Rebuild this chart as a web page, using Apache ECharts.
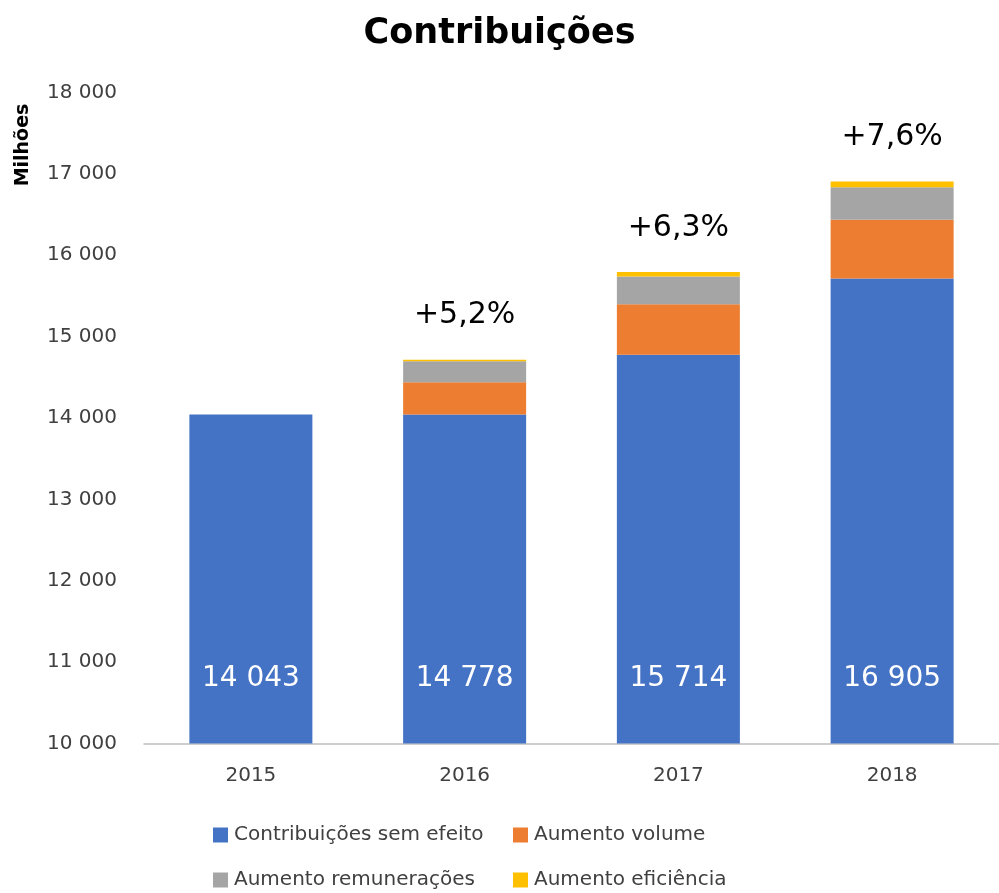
<!DOCTYPE html>
<html>
<head>
<meta charset="utf-8">
<script src="https://cdn.jsdelivr.net/npm/echarts@6/dist/echarts.min.js"></script>
<style>
html,body{margin:0;padding:0;background:#fff;}
#chart{width:999px;height:893px;}
</style>
</head>
<body>
<div id="chart"></div>
<script>
var categories = ['2015', '2016', '2017', '2018'];
var semEfeito = [14043, 14043, 14778, 15714];
var aumentoVolume = [0, 395, 619, 723];
var aumentoRemuneracoes = [0, 258, 343, 400];
var aumentoEficiencia = [0, 21, 53, 68];
var barLabels = ['14 043', '14 778', '15 714', '16 905'];
var growthLabels = ['', '+5,2%', '+6,3%', '+7,6%'];
var seriesNames = ['Contribuições sem efeito', 'Aumento volume', 'Aumento remunerações', 'Aumento eficiência'];

var FONT = 'DejaVu Sans';
var chart = echarts.init(document.getElementById('chart'), null, {renderer: 'canvas'});

function fmtThousands(v) {
  var s = String(Math.round(v));
  return s.replace(/\B(?=(\d{3})+(?!\d))/g, ' ');
}

function legendItem(name, left, top) {
  return {
    orient: 'horizontal',
    left: left,
    top: top,
    padding: 0,
    itemWidth: 15,
    itemHeight: 15,
    itemGap: 0,
    icon: 'rect',
    data: [name],
    textStyle: {fontFamily: FONT, fontSize: 20, color: '#404040', lineHeight: 20, padding: [0, 0, 0, 1]}
  };
}

var option = {
  backgroundColor: '#ffffff',
  animation: false,
  title: {
    text: 'Contribuições',
    left: 'center',
    top: 11,
    textStyle: {fontFamily: FONT, fontSize: 35, fontWeight: 'bold', color: '#000000'}
  },
  legend: [
    legendItem(seriesNames[0], 213, 825),
    legendItem(seriesNames[1], 513, 825),
    legendItem(seriesNames[2], 213, 870),
    legendItem(seriesNames[3], 513, 870)
  ],
  graphic: [{
    type: 'text',
    x: 23,
    y: 145,
    rotation: Math.PI / 2,
    style: {
      text: 'Milhões',
      fontFamily: FONT,
      fontSize: 19,
      fontWeight: 'bold',
      fill: '#000000',
      textAlign: 'center',
      textVerticalAlign: 'middle'
    }
  }],
  grid: {left: 144, top: 92.5, width: 863, height: 651, containLabel: false},
  xAxis: {
    type: 'category',
    data: categories,
    axisLine: {show: true, lineStyle: {color: '#bfbfbf', width: 1.5}},
    axisTick: {show: false},
    axisLabel: {fontFamily: FONT, fontSize: 20, color: '#404040', margin: 22}
  },
  yAxis: {
    type: 'value',
    min: 10000,
    max: 18000,
    interval: 1000,
    startValue: 10000,
    axisLine: {show: false},
    axisTick: {show: false},
    splitLine: {show: false},
    axisLabel: {
      fontFamily: FONT, fontSize: 20, color: '#404040', margin: 27,
      formatter: function (v) { return fmtThousands(v); }
    }
  },
  series: [
    {
      name: seriesNames[0], type: 'bar', stack: 'total', barWidth: 123,
      itemStyle: {color: '#4472C4'},
      label: {
        show: true, position: 'insideBottom', distance: 51,
        fontFamily: FONT, fontSize: 28, color: '#ffffff',
        formatter: function (p) { return barLabels[p.dataIndex]; }
      },
      data: semEfeito
    },
    {
      name: seriesNames[1], type: 'bar', stack: 'total', barWidth: 123,
      itemStyle: {color: '#ED7D31'},
      data: aumentoVolume
    },
    {
      name: seriesNames[2], type: 'bar', stack: 'total', barWidth: 123,
      itemStyle: {color: '#A5A5A5'},
      data: aumentoRemuneracoes
    },
    {
      name: seriesNames[3], type: 'bar', stack: 'total', barWidth: 123,
      itemStyle: {color: '#FFC000'},
      label: {
        show: true, position: 'top', distance: 29,
        fontFamily: FONT, fontSize: 30, color: '#000000',
        formatter: function (p) { return growthLabels[p.dataIndex]; }
      },
      data: aumentoEficiencia
    }
  ]
};
chart.setOption(option);
</script>
</body>
</html>
